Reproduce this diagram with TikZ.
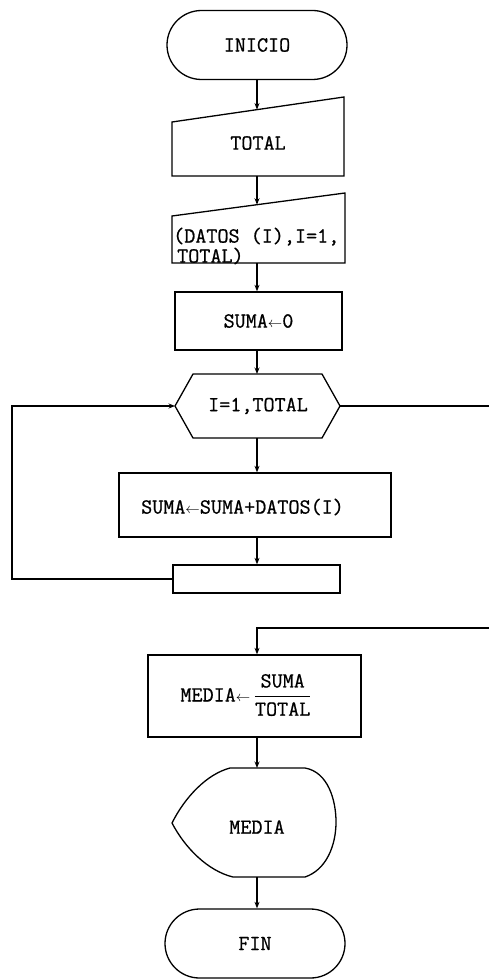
\documentclass[tikz,border=0pt]{standalone}
\usepackage{fontspec}
\newfontfamily\twfont[FakeBold=0.8]{Latin Modern Mono}
\usetikzlibrary{shapes.misc,arrows.meta}
\newcommand{\sarrow}{{\fontsize{15}{15}\selectfont$\leftarrow$}}
\begin{document}
\begin{tikzpicture}[x=1pt,y=-1pt,
  every node/.style={font=\twfont\fontsize{21.5}{20}\selectfont, inner sep=0pt},
  ln/.style={line width=1.3pt, line join=miter},
  arr/.style={ln, -{Stealth[length=6.5pt,width=5pt]}},
  term/.style={draw, ln, rounded rectangle, minimum width=180pt, minimum height=69pt},
  boxnode/.style={draw, ln, rectangle}
]
\useasboundingbox (0,0) rectangle (489,979);
\coordinate (ax) at (257,0);
\coordinate (lx) at (12,0);

% INICIO
\node[term] (inicio) at (257,45) {INICIO};

% TOTAL (manual input)
\draw[ln] (172,122) -- (344,97) -- (344,176) -- (172,176) -- cycle;
\node (total) at (258,143) {TOTAL};
\coordinate (totaltop) at (257,109.6);
\coordinate (totalbot) at (257,176);
\draw[arr] (inicio.south -| ax) -- (totaltop);

% DATOS (manual input)
\draw[ln] (172,216) -- (345,193) -- (345,263) -- (172,263) -- cycle;
\node[align=left, anchor=west] (datos) at (173,246) {(DATOS (I),I=1,\\\hspace*{4pt}TOTAL)};
\coordinate (datostop) at (257,204.7);
\coordinate (datosbot) at (257,263);
\draw[arr] (totalbot) -- (datostop);

% SUMA <- 0
\node[boxnode, minimum width=167pt, minimum height=58pt] (suma0) at (258.5,321)
  {SUMA\sarrow 0};
\draw[arr] (datosbot) -- (suma0.north -| ax);

% loop hexagon
\coordinate (hexL) at (175,406);
\coordinate (hexR) at (340,406);
\coordinate (hexT) at (257,374);
\coordinate (hexB) at (257,438);
\draw[ln] (hexL) -- (193,374) -- (322,374) -- (hexR) -- (322,438) -- (193,438) -- cycle;
\node (loop) at (258,406) {I=1,TOTAL};
\draw[arr] (suma0.south -| ax) -- (hexT);

% accumulation box
\node[boxnode, minimum width=272pt, minimum height=64pt] (acc) at (255,505) {};
\node[anchor=west] (acctext) at (141,507) {SUMA\sarrow SUMA+DATOS(I)};
\draw[arr] (hexB) -- (acc.north -| ax);

% empty loop-end box
\node[boxnode, minimum width=167pt, minimum height=28pt] (incr) at (256.5,579) {};
\draw[arr] (acc.south -| ax) -- (incr.north -| ax);
\draw[arr] (incr.west) -- (incr.west -| lx) -- (hexL -| lx) -- (hexL);

% exit of loop
\coordinate (exitR) at (489,406);
\draw[ln] (hexR) -- (exitR);
\coordinate (retR) at (489,628);

% MEDIA box
\node[boxnode, minimum width=213pt, minimum height=82pt] (mbox) at (254.5,696) {};
\node (mtext) at (246,695)
  {MEDIA\sarrow\,$\displaystyle\frac{\mbox{SUMA}}{\mbox{TOTAL}}$};
\draw[arr] (retR) -- (retR -| ax) -- (mbox.north -| ax);

% display
\coordinate (dtop) at (257,768);
\coordinate (dbot) at (257,877);
\draw[ln] (230,768) -- (305,768) .. controls (328,772) and (336,800) .. (336,822)
  .. controls (336,846) and (326,870) .. (305,877) -- (233,877)
  .. controls (208,871) and (185,848) .. (172,823)
  .. controls (185,797) and (207,774) .. (230,768) -- cycle;
\node (media) at (257,827) {MEDIA};
\draw[arr] (mbox.south -| ax) -- (dtop);

% FIN
\node[term] (fin) at (255,943.5) {FIN};
\draw[arr] (dbot) -- (fin.north -| ax);
\end{tikzpicture}
\end{document}
